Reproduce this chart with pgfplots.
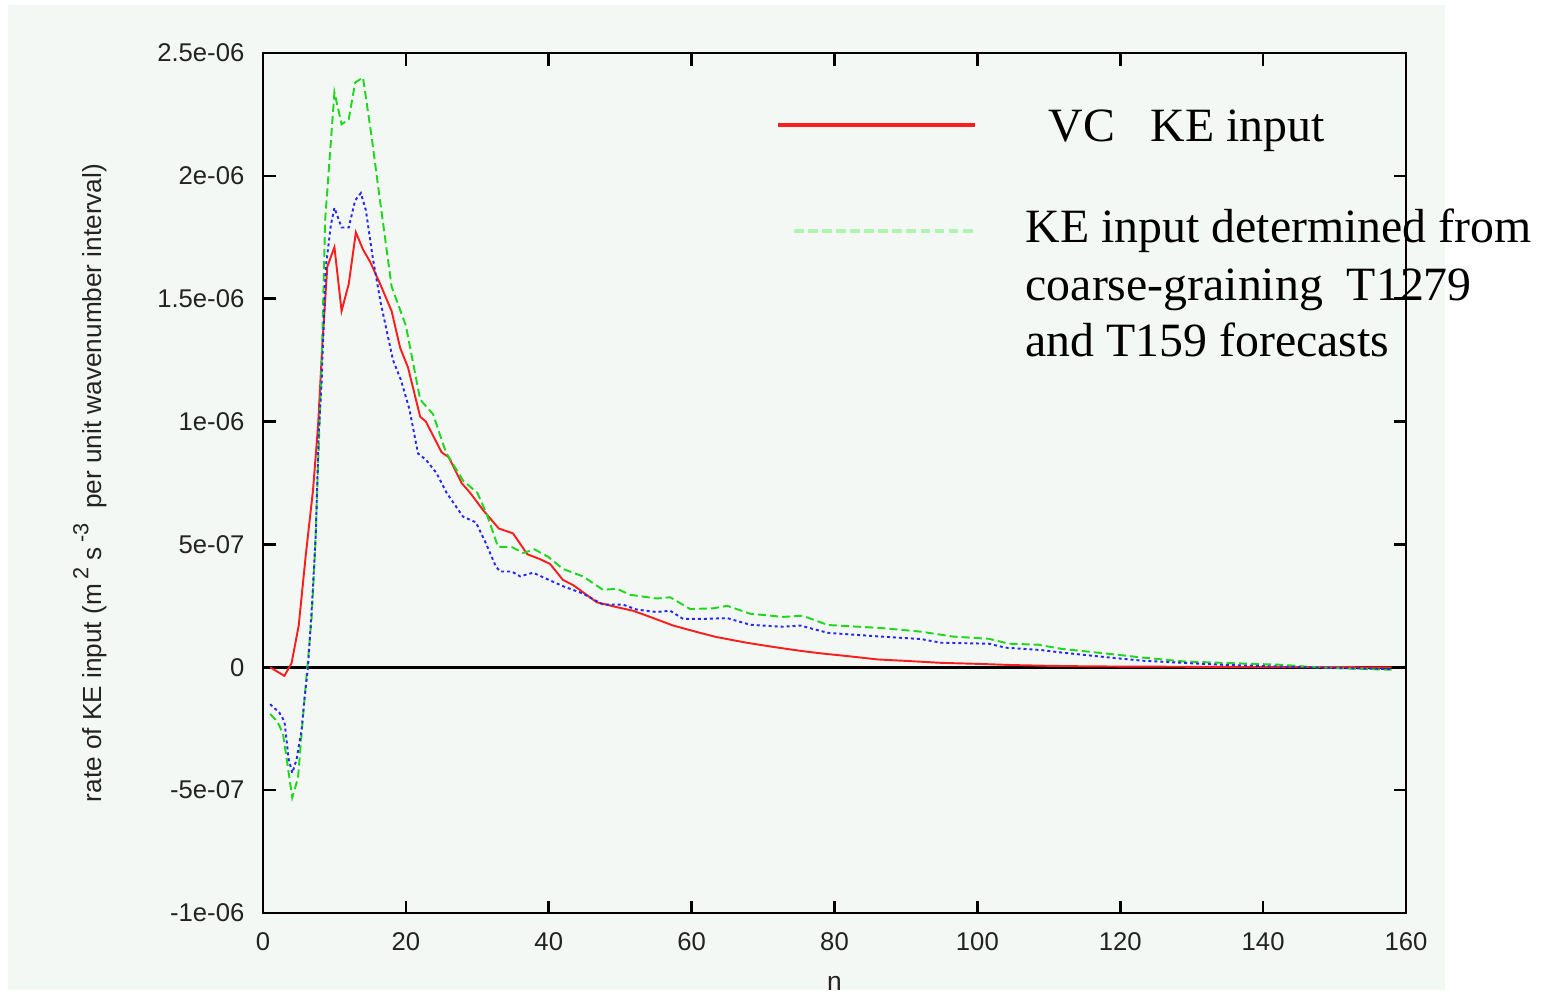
\documentclass[border=0pt]{standalone}
\usepackage{fontspec}
\setmainfont{Liberation Sans}
\newfontfamily\legfont{Liberation Serif}
\usepackage{pgfplots}
\pgfplotsset{compat=1.18}

\definecolor{panel}{RGB}{244,248,244}
\definecolor{vcred}{RGB}{250,30,30}
\definecolor{cggreen}{RGB}{30,215,30}
\definecolor{cgblue}{RGB}{40,40,240}
\definecolor{legreen}{RGB}{175,245,175}
\definecolor{ticktext}{RGB}{35,35,35}

\tikzset{legtext/.style={font=\legfont\fontsize{13.6}{16}\selectfont, inner sep=0pt, anchor=base west}}
% larger, more widely set superscripts for the unit label
\newcommand{\usup}[1]{\,\raisebox{0.5em}{\fontsize{6.2}{7}\selectfont #1}}

\begin{document}
\begin{tikzpicture}
\useasboundingbox (0,0) rectangle (15.41,9.92);
\fill[panel] (0.08,0.02) rectangle (14.45,9.87);
\begin{axis}[
  at={(2.63cm,0.79cm)}, anchor=south west,
  scale only axis, width=11.43cm, height=8.60cm,
  xmin=0, xmax=160, ymin=-1e-6, ymax=2.5e-6,
  xtick={0,20,40,60,80,100,120,140,160},
  xticklabels={0,20,40,60,80,100,120,140,160},
  ytick={-1e-6,-5e-7,0,5e-7,1e-6,1.5e-6,2e-6,2.5e-6},
  yticklabels={-1e-06,-5e-07,0,5e-07,1e-06,1.5e-06,2e-06,2.5e-06},
  scaled y ticks=false, scaled x ticks=false,
  tick align=inside,
  major tick length=0.125cm,
  axis line style={line width=0.75pt},
  every tick/.style={black, line width=0.75pt},
  tick label style={font=\fontsize{7.3}{9}\selectfont, text=ticktext, inner sep=0pt},
  xticklabel style={anchor=center, yshift=-0.285cm},
  yticklabel style={anchor=east, xshift=-0.18cm},
  xlabel={n},
  xlabel style={font=\fontsize{7.5}{9}\selectfont, text=ticktext, inner sep=0pt,
    at={(axis description cs:0.5,0)}, anchor=center, yshift=-0.705cm},
  ylabel={rate of KE input (m\usup{2} s\usup{-3}\ \ per unit wavenumber interval)},
  ylabel style={font=\fontsize{7.45}{9}\selectfont, text=ticktext, inner sep=0pt,
    at={(axis description cs:-0.1514,0.5)}, anchor=center},
]
% zero reference line
\draw[black, line width=0.75pt] (axis cs:0,0) -- (axis cs:160,0);

% VC kinetic energy input
\addplot[vcred, line width=0.55pt] coordinates {
(1,0) (3,-0.035e-6) (4,0.017e-6) (5,0.17e-6) (6,0.46e-6) (7,0.72e-6) (7.7,0.98e-6)
(8.3,1.31e-6) (9,1.63e-6) (10,1.71e-6) (11,1.45e-6) (12,1.56e-6) (13,1.77e-6)
(14,1.70e-6) (15,1.65e-6) (16.4,1.56e-6) (18,1.45e-6) (19.2,1.30e-6) (20.3,1.22e-6)
(22,1.02e-6) (22.8,1.0e-6) (25,0.875e-6) (26,0.855e-6) (27.8,0.75e-6) (29,0.71e-6)
(30.8,0.64e-6) (33,0.565e-6) (35,0.545e-6) (37,0.46e-6) (38.8,0.44e-6) (40.2,0.42e-6)
(42,0.355e-6) (43.4,0.335e-6) (46.7,0.265e-6) (49.5,0.245e-6) (51.8,0.23e-6)
(54.2,0.205e-6) (57.4,0.17e-6) (61.2,0.14e-6) (63.5,0.123e-6) (67.7,0.10e-6)
(71.4,0.083e-6) (75.2,0.067e-6) (78,0.057e-6) (82,0.045e-6) (86,0.032e-6)
(90,0.026e-6) (95,0.018e-6) (100,0.014e-6) (105,0.009e-6) (110,0.006e-6)
(115,0.004e-6) (120,0.003e-6) (130,0.002e-6) (140,0.001e-6) (150,0.0005e-6) (158,0)
};

% KE input from coarse-graining T1279 and T159 forecasts
\addplot[cggreen, line width=0.55pt, dash pattern=on 2.3pt off 1.15pt] coordinates {
(1,-0.19e-6) (2,-0.22e-6) (2.8,-0.27e-6) (3.5,-0.41e-6) (4.1,-0.53e-6) (4.9,-0.45e-6)
(5.6,-0.2e-6) (6.2,0) (6.8,0.2e-6) (7.3,0.48e-6) (7.7,0.82e-6) (8.2,1.22e-6)
(8.7,1.82e-6) (9.4,2.1e-6) (10,2.34e-6) (11,2.21e-6) (12,2.23e-6) (12.9,2.38e-6)
(14,2.40e-6) (15.2,2.16e-6) (16.1,1.96e-6) (18,1.55e-6) (20,1.39e-6) (22,1.09e-6)
(23.8,1.03e-6) (25.6,0.875e-6) (28,0.76e-6) (30,0.71e-6) (31.3,0.625e-6)
(32.9,0.49e-6) (34.8,0.49e-6) (36.4,0.465e-6) (38,0.48e-6) (39.9,0.45e-6)
(42,0.40e-6) (44.8,0.37e-6) (47.6,0.315e-6) (49.5,0.32e-6) (51.4,0.295e-6)
(55.1,0.28e-6) (57,0.285e-6) (59.8,0.237e-6) (63,0.24e-6) (65,0.25e-6)
(68.2,0.218e-6) (72.8,0.205e-6) (75.5,0.21e-6) (79.1,0.172e-6) (86.5,0.16e-6)
(92.1,0.145e-6) (96.6,0.125e-6) (101.6,0.116e-6) (104.4,0.096e-6) (108.5,0.092e-6)
(111.8,0.075e-6) (117.4,0.058e-6) (123,0.04e-6) (128.8,0.024e-6) (134.4,0.018e-6)
(142.8,0.01e-6) (147.3,0) (152,-0.005e-6) (158,-0.01e-6)
};

% second coarse-grained estimate
\addplot[cgblue, line width=0.55pt, dash pattern=on 0.85pt off 0.85pt] coordinates {
(1,-0.15e-6) (2.3,-0.185e-6) (3,-0.22e-6) (3.6,-0.375e-6) (4.1,-0.43e-6)
(4.7,-0.375e-6) (5.4,-0.255e-6) (5.8,-0.13e-6) (6.3,0) (6.9,0.275e-6) (7.4,0.55e-6)
(7.8,0.95e-6) (8.2,1.16e-6) (8.8,1.63e-6) (9.5,1.80e-6) (10,1.87e-6) (11,1.79e-6)
(12,1.79e-6) (12.9,1.90e-6) (13.7,1.93e-6) (14.4,1.86e-6) (15.4,1.66e-6)
(16.5,1.48e-6) (18.2,1.25e-6) (19.3,1.17e-6) (20.5,1.05e-6) (21.7,0.87e-6)
(22.8,0.845e-6) (24.3,0.79e-6) (25.7,0.71e-6) (28,0.613e-6) (29.8,0.59e-6)
(31.2,0.505e-6) (32.6,0.41e-6) (33.2,0.39e-6) (34.8,0.39e-6) (36,0.37e-6)
(37.8,0.385e-6) (39.7,0.36e-6) (42,0.33e-6) (44.8,0.30e-6) (47.6,0.255e-6)
(50.4,0.255e-6) (52.3,0.235e-6) (55.1,0.225e-6) (57,0.23e-6) (58.8,0.197e-6)
(61.6,0.197e-6) (65,0.20e-6) (68.2,0.173e-6) (72.8,0.165e-6) (75.2,0.17e-6)
(79.1,0.14e-6) (86.5,0.125e-6) (92.1,0.115e-6) (94.9,0.10e-6) (101.6,0.096e-6)
(103.9,0.08e-6) (109,0.07e-6) (111.8,0.06e-6) (117.4,0.043e-6) (123,0.027e-6)
(128.8,0.018e-6) (134.4,0.01e-6) (145.6,0) (152,-0.004e-6) (158,-0.007e-6)
};
\end{axis}

% legend
\draw[vcred, line width=1.1pt] (7.78,8.67) -- (9.75,8.67);
\node[legtext] at (10.48,8.503) {VC};
\node[legtext] at (11.50,8.503) {KE input};
\draw[legreen, line width=1.1pt, dash pattern=on 2.8pt off 1.2pt] (7.94,7.61) -- (9.75,7.61);
\node[legtext] at (10.25,7.49) {KE input determined from};
\node[legtext] at (10.25,6.92) {coarse-graining\ \ T1279};
\node[legtext] at (10.25,6.353) {and T159 forecasts};
\end{tikzpicture}
\end{document}
